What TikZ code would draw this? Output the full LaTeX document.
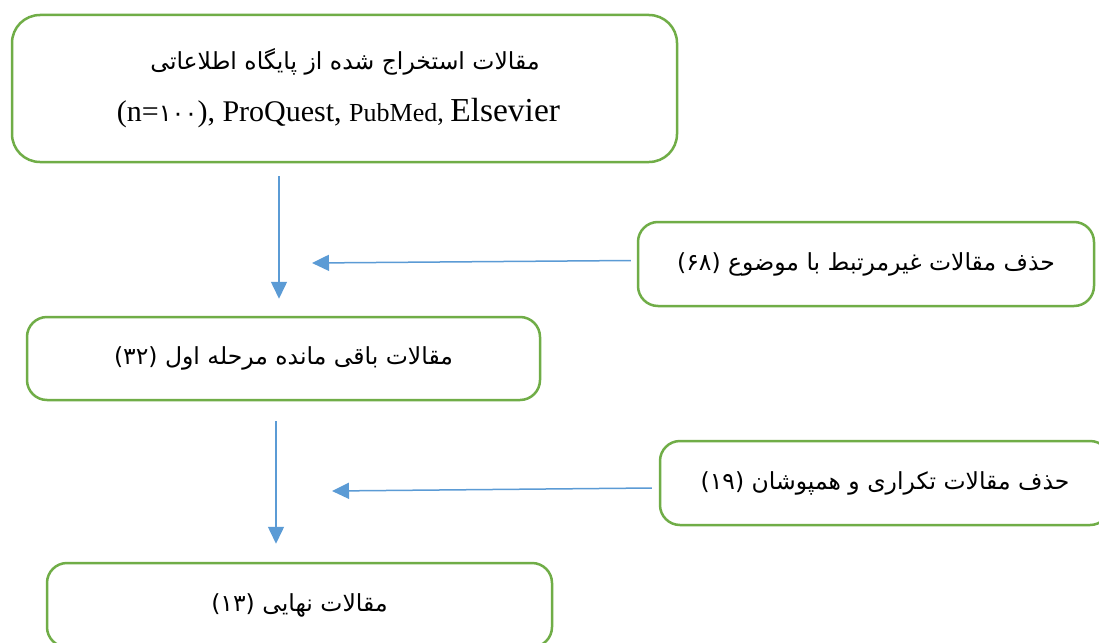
\documentclass[tikz,border=0pt]{standalone}
\usepackage{fontspec}
\setmainfont{Liberation Serif}
\newfontfamily\arabicfont[Script=Arabic]{DejaVu Sans}
\TeXXeTstate=1
\usetikzlibrary{arrows.meta}
\definecolor{boxgreen}{HTML}{70AD47}
\definecolor{arrblue}{HTML}{5B9BD5}
\newcommand{\fatext}[1]{\raisebox{-2.5pt}{\beginR #1\endR}}
\tikzset{
  box/.style={draw=boxgreen, line width=2.5pt, rounded corners=20pt, fill=white, align=center, inner sep=0pt},
  arr/.style={draw=arrblue, line width=1.5pt, -{Triangle[length=17pt,width=16pt]}},
  fa/.style={font=\arabicfont\fontsize{23.5}{28}\selectfont},
}
\begin{document}
\begin{tikzpicture}[x=1pt,y=-1pt]
\useasboundingbox[fill=white] (0,0) rectangle (1099,642);
% boxes
\node[box, minimum width=665pt, minimum height=147pt, rounded corners=28pt] (b1) at (344.5,88.5) {};
\node[inner sep=0pt, font=\arabicfont\fontsize{23.5}{28}\selectfont] (b1l1) at (345,62) {\fatext{مقالات استخراج شده از پایگاه اطلاعاتی}};
\node[inner sep=0pt] (b1l2) at (338.5,113) {{\fontsize{30}{34}\selectfont (n={\arabicfont\fontsize{24}{28}\selectfont ۱۰۰}), ProQuest, }{\fontsize{26}{30}\selectfont PubMed, }{\fontsize{33.5}{38}\selectfont Elsevier}};
\node[box, fa, minimum width=456pt, minimum height=84pt] (b2) at (866,264) {\fatext{حذف مقالات غیرمرتبط با موضوع (۶۸)}};
\node[box, fa, minimum width=513pt, minimum height=83pt] (b3) at (283.5,358.5) {\fatext{مقالات باقی مانده مرحله اول (۳۲)}};
\node[box, fa, minimum width=450pt, minimum height=84pt] (b4) at (885,483) {\fatext{حذف مقالات تکراری و همپوشان (۱۹)}};
\node[box, fa, minimum width=505pt, minimum height=84pt] (b5) at (299.5,605) {\fatext{مقالات نهایی (۱۳)}};
% free ends of side arrows
\coordinate (m1) at (312,263);
\coordinate (m2) at (332,491);
% connectors
\draw[arr] ([xshift=-65.5pt,yshift=-13pt]b1.south) -- ([xshift=-4.5pt,yshift=17pt]b3.north);
\draw[arr] ([xshift=-6pt,yshift=3.5pt]b2.west) -- (m1);
\draw[arr] ([xshift=-7.5pt,yshift=-20pt]b3.south) -- ([xshift=-23.5pt,yshift=18pt]b5.north);
\draw[arr] ([xshift=-7pt,yshift=-5pt]b4.west) -- (m2);
\end{tikzpicture}
\end{document}
